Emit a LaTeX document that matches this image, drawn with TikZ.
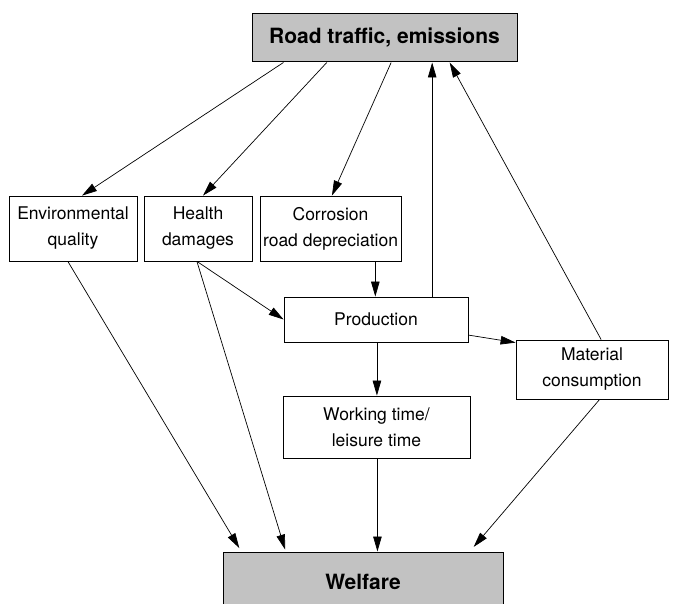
\documentclass[tikz,border=0pt]{standalone}
\usepackage{fontspec}
\setmainfont{TeX Gyre Heros}
\usetikzlibrary{arrows.meta,calc}
\begin{document}
\begin{tikzpicture}[x=1pt,y=-1pt,
  box/.style={draw,line width=0.8pt,rectangle,inner sep=0pt,align=center,
    font=\fontsize{17.5}{26}\selectfont},
  shaded/.style={draw,line width=1pt,rectangle,inner sep=0pt,fill=black!24,
    font=\fontsize{21}{26}\selectfont\bfseries},
  arr/.style={line width=0.7pt,-{Triangle[length=15pt,width=8.5pt]}},
  every node/.append style={anchor=center}]
\useasboundingbox (0,0) rectangle (675,604);
\node[shaded,minimum width=265pt,minimum height=48pt] (top) at (384.5,38) {Road traffic, emissions};
\node[box,minimum width=128pt,minimum height=65pt] (env) at (73,228.5) {Environmental\\quality};
\node[box,minimum width=108pt,minimum height=65pt] (hea) at (198,228.5) {Health\\damages};
\node[box,minimum width=141pt,minimum height=65pt] (cor) at (330.5,228.5) {Corrosion\\road depreciation};
\node[box,minimum width=184pt,minimum height=45pt] (pro) at (376,319.5) {Production};
\node[box,minimum width=152pt,minimum height=59pt] (mat) at (592,369.5) {Material\\consumption};
\node[box,minimum width=187pt,minimum height=62pt] (wor) at (376.5,427) {Working time/\\leisure time};
\node[shaded,minimum width=280pt,minimum height=80pt] (wel) at (363,592) {\raisebox{20pt}{Welfare}};

% from top box
\draw[arr] ($(top.south west)!0.12!(top.south east)$) -- ($(env.north west)!0.57!(env.north east)$);
\draw[arr] ($(top.south west)!0.283!(top.south east)$) -- ($(hea.north west)!0.546!(hea.north east)$);
\draw[arr] ($(top.south west)!0.525!(top.south east)$) -- ($(cor.north west)!0.51!(cor.north east)$);

% corrosion -> production
\coordinate (c1) at ($(cor.south west)!0.816!(cor.south east)$);
\draw[arr] (c1) -- (c1 |- pro.north);
% health -> production
\coordinate (h1) at ($(hea.south west)!0.49!(hea.south east)$);
\draw[arr] (h1) -- (pro.west);
% production -> top
\coordinate (p1) at ($(pro.north west)!0.804!(pro.north east)$);
\draw[arr] (p1) -- (p1 |- top.south);
% material -> top
\draw[arr] ($(mat.north west)!0.56!(mat.north east)$) -- ($(top.south west)!0.745!(top.south east)$);
% production -> material
\draw[arr] ($(pro.north east)!0.84!(pro.south east)$) -- ($(mat.north west)!0.05!(mat.south west)$);
% production -> working
\coordinate (p2) at ($(pro.south west)!0.505!(pro.south east)$);
\draw[arr] (p2) -- (p2 |- wor.north);
% working -> welfare
\coordinate (w1) at ($(wor.south west)!0.505!(wor.south east)$);
\draw[arr] (w1) -- (w1 |- wel.north);
% to welfare
\draw[arr,shorten >=4pt] ($(env.south west)!0.46!(env.south east)$) -- ($(wel.north west)!0.067!(wel.north east)$);
\draw[arr,shorten >=2pt] (h1) -- ($(wel.north west)!0.225!(wel.north east)$);
\draw[arr,shorten >=6pt] ($(mat.south west)!0.55!(mat.south east)$) -- ($(wel.north west)!0.88!(wel.north east)$);
\end{tikzpicture}
\end{document}
